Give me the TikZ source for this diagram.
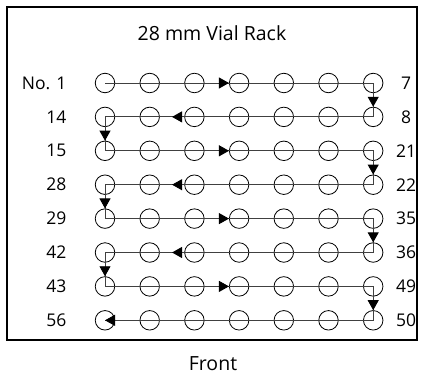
\documentclass[tikz,border=0pt]{standalone}
\usepackage{fontspec}
\setmainfont{Open Sans}
\usetikzlibrary{arrows.meta,calc,positioning}
\definecolor{pathgray}{gray}{0.25}

\begin{document}
\begin{tikzpicture}[x=1pt,y=-1pt,
    vial/.style={draw, circle, minimum size=19.5pt, inner sep=0pt, line width=0.8pt},
    route/.style={draw=pathgray, line width=0.9pt},
    flow/.style={route, -{Triangle[length=10pt,width=11pt,color=black]}},
    label/.style={font=\fontsize{17.5}{20}\selectfont}]
        \useasboundingbox (0,0) rectangle (425,375);

        % Outer frame and captions
        \draw[line width=2pt] (7,7) rectangle (417,340);
        \node[font=\fontsize{19.5}{22}\selectfont] (title) at (212,33) {28 mm Vial Rack};
        \node[font=\fontsize{19.5}{22}\selectfont] (front) at (213,364) {Front};

        % Vial positions
        \foreach \r in {1,...,8}
            \foreach \c in {1,...,7}
            \node[vial] (v\r-\c) at ({105+44.7*(\c-1)},{83+33.9*(\r-1)}) {};

        % Serpentine route through the centres
        \draw[route] (v1-1.center) -- (v1-7.center) -- (v2-7.center) -- (v2-1.center)
            -- (v3-1.center) -- (v3-7.center) -- (v4-7.center) -- (v4-1.center)
            -- (v5-1.center) -- (v5-7.center) -- (v6-7.center) -- (v6-1.center)
            -- (v7-1.center) -- (v7-7.center) -- (v8-7.center) -- (v8-1.center);

        % Direction arrows
        \foreach \r in {1,3,5,7} {
            \pgfmathtruncatemacro{\n}{\r+1}
            \draw[flow] (v\r-3.east) -- (v\r-4.west);
            \draw[flow] (v\r-7.south) -- (v\n-7.north);
        }
        \foreach \r in {2,4,6} {
            \pgfmathtruncatemacro{\n}{\r+1}
            \draw[flow] (v\r-3.west) -- ($(v\r-2)!0.5!(v\r-3)$);
            \draw[flow] (v\r-1.south) -- (v\n-1.north);
        }
        \draw[flow] (v8-2.west) -- (v8-1.center);

        % Row numbers
        \foreach \r/\a/\b in {1/No. 1/7, 2/14/8, 3/15/21, 4/28/22, 5/29/35, 6/42/36, 7/43/49, 8/56/50} {
            \node[label, left=25pt of v\r-1] (left\r) {\a};
            \node[label] (right\r) at ($(v\r-7)+(33,0)$) {\b};
        }
    \end{tikzpicture}
\end{document}
